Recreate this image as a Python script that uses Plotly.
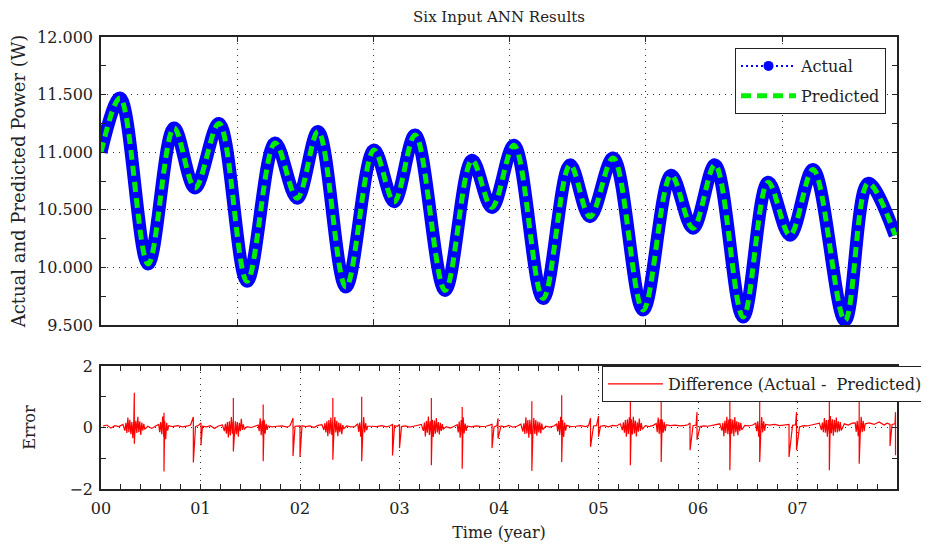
import plotly.graph_objects as go

# ---- top panel: power, turning points (x = days from start)
day = [0, 70, 173, 268, 345, 433, 536, 639, 720, 797, 899, 1002, 1076, 1153, 1263,
       1362, 1435, 1516, 1623, 1722, 1795, 1880, 1990, 2093, 2173, 2254, 2357,
       2449, 2529, 2614, 2731, 2816, 2915]
actual = [11.00, 11.47, 10.03, 11.21, 10.69, 11.25, 9.88, 11.08, 10.60, 11.18, 9.83,
          11.02, 10.57, 11.15, 9.80, 10.93, 10.52, 11.06, 9.73, 10.89, 10.44, 10.95,
          9.63, 10.80, 10.34, 10.89, 9.57, 10.74, 10.28, 10.85, 9.54, 10.73, 10.28]
# prediction sits on top of the actual curve (difference below reading precision)
predicted = list(actual)

# ---- bottom panel: error (x = years)
spike_t = [0.335, 0.633, 0.928, 1.005, 1.33, 1.63, 1.93, 2.0, 2.33, 2.62, 2.93, 3.0,
           3.32, 3.63, 3.93, 3.99, 4.33, 4.63, 4.92, 5.0, 5.32, 5.63, 5.92, 5.99,
           6.32, 6.62, 6.915, 6.99, 7.32, 7.62, 7.93, 7.985]
spike_hi = [1.13, 0.48, 0.34, 0.15, 0.96, 0.75, 0.30, 0.05, 0.96, 1.00, 0.10, 0.10,
            0.96, 0.67, 0.10, 0.30, 0.85, 1.05, 0.30, 0.37, 1.10, 1.05, 0.15, 0.50,
            1.05, 1.05, 0.10, 0.50, 0.83, 0.85, 0.10, 0.50]
spike_lo = [-0.53, -1.43, -1.14, -0.58, -0.78, -1.10, -0.93, -0.96, -1.05, -1.10, -0.91, -0.67,
            -1.23, -1.34, -0.67, -0.36, -1.41, -1.12, -0.63, -0.30, -1.23, -1.12, -0.74, -0.40,
            -1.39, -1.12, -0.96, -0.74, -1.39, -1.18, -0.60, -0.90]

# small residual noise, sampled at the same points inside every year
noise_offsets = [0.02, 0.06, 0.10, 0.14, 0.18, 0.22,
                 0.24, 0.25, 0.26, 0.27, 0.28, 0.29, 0.30, 0.31, 0.32, 0.33, 0.34,
                 0.35, 0.36, 0.37, 0.38, 0.39, 0.40, 0.41, 0.42, 0.43, 0.44,
                 0.47, 0.51, 0.55,
                 0.58, 0.59, 0.60, 0.61, 0.62, 0.63, 0.64, 0.65, 0.66, 0.67, 0.68,
                 0.72, 0.77, 0.82, 0.87, 0.90, 0.95, 0.98]
noise_rows = [
    [0.05, 0.08, -0.02, 0.06, 0.03, 0.10,
     -0.10, 0.15, -0.18, 0.32, -0.15, 0.25, -0.22, 0.18, -0.35, 0.28, -0.20,
     0.22, -0.18, 0.35, -0.15, 0.20, -0.24, 0.16, -0.10, 0.12, -0.06,
     0.04, -0.03, 0.05,
     0.10, -0.15, 0.18, -0.22, 0.36, -0.30, 0.22, -0.38, 0.15, -0.10, 0.06,
     0.03, 0.06, 0.02, 0.05, 0.08, 0.03, 0.07],
    [0.04, 0.02, 0.06, -0.03, 0.05, 0.08,
     -0.12, 0.12, -0.20, 0.18, -0.32, 0.20, -0.26, 0.34, -0.20, 0.30, -0.28,
     0.20, -0.22, 0.18, -0.30, 0.15, -0.12, 0.28, -0.08, 0.10, -0.05,
     0.03, 0.00, 0.04,
     0.08, -0.12, 0.30, -0.25, 0.22, -0.38, 0.25, -0.20, 0.12, -0.08, 0.05,
     0.02, 0.04, 0.05, 0.01, 0.06, 0.04, 0.05],
    [0.06, 0.03, 0.05, 0.00, 0.07, 0.09,
     -0.08, 0.14, -0.16, 0.20, -0.28, 0.24, -0.20, 0.32, -0.24, 0.26, -0.22,
     0.34, -0.16, 0.22, -0.28, 0.16, -0.15, 0.14, -0.22, 0.08, -0.04,
     0.05, 0.02, 0.03,
     0.12, -0.14, 0.16, -0.30, 0.28, -0.26, 0.34, -0.16, 0.14, -0.09, 0.04,
     0.04, 0.03, 0.06, 0.02, 0.05, 0.06, 0.04],
    [0.03, 0.05, 0.01, 0.04, 0.06, 0.10,
     -0.11, 0.16, -0.29, 0.21, -0.17, 0.36, -0.24, 0.20, -0.27, 0.25, -0.31,
     0.23, -0.20, 0.31, -0.16, 0.18, -0.23, 0.15, -0.11, 0.11, -0.05,
     0.03, -0.02, 0.04,
     0.09, -0.16, 0.19, -0.33, 0.24, -0.29, 0.33, -0.19, 0.13, -0.11, 0.05,
     0.02, 0.05, 0.03, 0.04, 0.07, 0.02, 0.06],
    [0.05, 0.02, 0.07, 0.01, 0.04, 0.11,
     -0.13, 0.14, -0.21, 0.33, -0.19, 0.24, -0.33, 0.25, -0.22, 0.29, -0.24,
     0.31, -0.21, 0.24, -0.27, 0.19, -0.16, 0.17, -0.19, 0.13, -0.07,
     0.04, 0.01, 0.05,
     0.11, -0.13, 0.21, -0.24, 0.35, -0.27, 0.24, -0.31, 0.16, -0.10, 0.07,
     0.03, 0.04, 0.06, 0.03, 0.06, 0.05, 0.06],
    [0.04, 0.06, 0.02, 0.07, 0.05, 0.12,
     -0.09, 0.17, -0.17, 0.24, -0.30, 0.27, -0.21, 0.33, -0.26, 0.27, -0.23,
     0.35, -0.19, 0.23, -0.29, 0.17, -0.14, 0.29, -0.11, 0.14, -0.06,
     0.06, 0.03, 0.07,
     0.13, -0.15, 0.32, -0.21, 0.27, -0.35, 0.26, -0.17, 0.18, -0.12, 0.09,
     0.06, 0.08, 0.05, 0.07, 0.09, 0.06, 0.08],
    [0.03, 0.05, 0.04, 0.06, 0.08, 0.12,
     -0.10, 0.15, -0.28, 0.22, -0.18, 0.35, -0.22, 0.26, -0.33, 0.28, -0.20,
     0.26, -0.28, 0.34, -0.16, 0.20, -0.25, 0.18, -0.12, 0.15, -0.08,
     0.07, 0.05, 0.08,
     0.14, -0.12, 0.20, -0.30, 0.26, -0.26, 0.34, -0.16, 0.20, -0.10, 0.10,
     0.08, 0.10, 0.06, 0.09, 0.10, 0.07, 0.09],
    [0.02, 0.06, 0.05, 0.08, 0.10, 0.14,
     -0.08, 0.16, -0.15, 0.31, -0.17, 0.24, -0.30, 0.25, -0.21, 0.37, -0.19,
     0.27, -0.27, 0.25, -0.15, 0.32, -0.16, 0.20, -0.13, 0.18, -0.10,
     0.12, 0.08, 0.14,
     0.15, -0.14, 0.22, -0.28, 0.27, -0.24, 0.35, -0.15, 0.22, -0.12, 0.12,
     0.15, 0.10, 0.18, 0.08, 0.14, 0.10, 0.12],
]

year_ticks = [0, 1, 2, 3, 4, 5, 6, 7]
year_labels = ["00", "01", "02", "03", "04", "05", "06", "07"]

# merge noise and spikes into one time-ordered error series
pts = []
for yr, row in enumerate(noise_rows):
    pts += [(yr + off, v) for off, v in zip(noise_offsets, row)]
for t, hi, lo in zip(spike_t, spike_hi, spike_lo):
    pts += [(t, hi), (t, lo)]
pts.sort(key=lambda p: p[0])
err_t = [p[0] for p in pts]
err_v = [p[1] for p in pts]

FONT = "DejaVu Serif"
W, H = 921, 537  # page body adds an 8px margin around the figure


def fx(px):
    return (px - 8) / W


def fy(py):
    return 1 - (py - 8) / H


fig = go.Figure()

# thick blue band for actual values
fig.add_trace(go.Scatter(x=day, y=actual, mode="lines", line=dict(color="#0000ff", width=13, shape="spline"),
                         showlegend=False, hoverinfo="skip", xaxis="x", yaxis="y"))
fig.add_trace(go.Scatter(x=day, y=predicted, mode="lines", name="Predicted",
                         line=dict(color="#00ee00", width=5, dash="10px,6px", shape="spline"),
                         xaxis="x", yaxis="y", legend="legend", legendrank=2, legendgroup="b"))
# legend entry for the actual series
fig.add_trace(go.Scatter(x=[None], y=[None], mode="lines+markers", name="Actual",
                         line=dict(color="#0000ff", width=2, dash="2px,3px"),
                         marker=dict(color="#0000ff", size=10),
                         xaxis="x", yaxis="y", legend="legend", legendrank=1, legendgroup="a"))

fig.add_trace(go.Scatter(x=err_t, y=err_v, mode="lines", name="Difference (Actual -\u00a0 Predicted)",
                         line=dict(color="#ff0000", width=1.2),
                         xaxis="x2", yaxis="y2", legend="legend2"))

axis_common = dict(showline=True, linecolor="#222222", linewidth=1.5, mirror="allticks",
                   ticks="inside", ticklen=5, tickcolor="#222222",
                   showgrid=True, gridcolor="#333333", griddash="1px,5px", gridwidth=1,
                   zeroline=False, tickfont=dict(family=FONT, size=16, color="#222222"),
                   automargin=False)

xdom = [fx(101), fx(897)]

fig.update_layout(
    width=W, height=H,
    paper_bgcolor="white", plot_bgcolor="white",
    margin=dict(l=0, r=0, t=0, b=0, autoexpand=False),
    font=dict(family=FONT, size=16, color="#222222"),
    title=dict(text="Six Input ANN Results", x=fx(499), xanchor="center",
               y=fy(17), yanchor="middle", font=dict(family=FONT, size=15, color="#222222")),
    xaxis=dict(axis_common, domain=xdom, anchor="y", range=[0, 2922], dtick=500, tick0=0,
               showticklabels=False),
    yaxis=dict(axis_common, domain=[fy(325), fy(37)], anchor="x", range=[9.5, 12],
               dtick=0.5, tick0=9.5, tickformat=".3f", ticklabelstandoff=3,
               minor=dict(dtick=0.25, ticklen=5, tickcolor="#222222", ticks="inside", showgrid=False),
               title=dict(text="Actual and Predicted Power (W)", standoff=8,
                          font=dict(family=FONT, size=18, color="#222222"))),
    xaxis2=dict(axis_common, domain=xdom, anchor="y2", range=[0, 8],
                tickvals=year_ticks, ticktext=year_labels, ticklabelstandoff=4,
                minor=dict(dtick=0.2, tick0=0, ticklen=5, tickcolor="#222222", ticks="inside", showgrid=False),
                title=dict(text="Time (year)", standoff=10,
                           font=dict(family=FONT, size=16, color="#222222"))),
    yaxis2=dict(axis_common, domain=[fy(489), fy(366)], anchor="x2", range=[-2, 2],
                dtick=2, tick0=-2, ticklabelstandoff=3,
                minor=dict(dtick=1, ticklen=5, tickcolor="#222222", ticks="inside", showgrid=False),
                title=dict(text="Error", standoff=30,
                           font=dict(family=FONT, size=16, color="#222222"))),
    legend=dict(x=fx(886), xanchor="right", y=fy(48), yanchor="top",
                bgcolor="white", bordercolor="#222222", borderwidth=1,
                font=dict(family=FONT, size=16, color="#222222"),
                itemwidth=55, tracegroupgap=6, traceorder="grouped"),
    legend2=dict(x=fx(928), xanchor="right", y=fy(366), yanchor="top",
                 bgcolor="white", bordercolor="#222222", borderwidth=1,
                 font=dict(family=FONT, size=16, color="#222222"),
                 itemwidth=55),
)

fig.write_html("out.html")
